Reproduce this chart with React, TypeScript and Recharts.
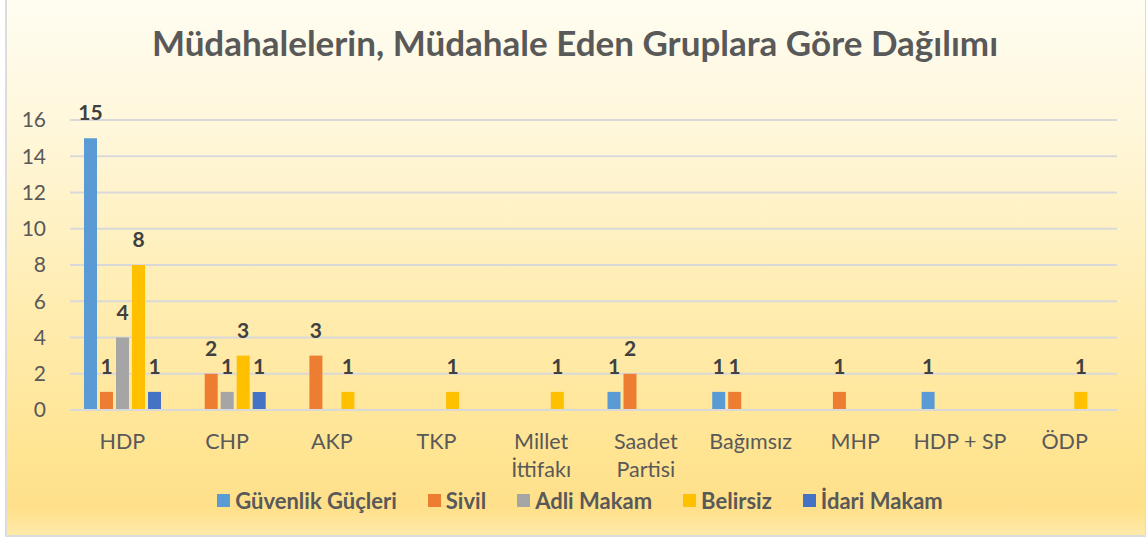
import React from 'react';
import { BarChart, Bar, XAxis, YAxis, CartesianGrid, LabelList } from 'recharts';

const categories = ['HDP', 'CHP', 'AKP', 'TKP', 'Millet İttifakı', 'Saadet Partisi', 'Bağımsız', 'MHP', 'HDP + SP', 'ÖDP'];
const guvenlik = [15, 0, 0, 0, 0, 1, 1, 0, 1, 0];
const sivil = [1, 2, 3, 0, 0, 2, 1, 1, 0, 0];
const adli = [4, 1, 0, 0, 0, 0, 0, 0, 0, 0];
const belirsiz = [8, 3, 1, 1, 1, 0, 0, 0, 0, 1];
const idari = [1, 1, 0, 0, 0, 0, 0, 0, 0, 0];
const yTicks = [0, 2, 4, 6, 8, 10, 12, 14, 16];

const series = [
  { key: 'guvenlik', name: 'Güvenlik Güçleri', color: '#5B9BD5', values: guvenlik },
  { key: 'sivil', name: 'Sivil', color: '#ED7D31', values: sivil },
  { key: 'adli', name: 'Adli Makam', color: '#A5A5A5', values: adli },
  { key: 'belirsiz', name: 'Belirsiz', color: '#FFC000', values: belirsiz },
  { key: 'idari', name: 'İdari Makam', color: '#4472C4', values: idari },
];

const data = categories.map((name, i) => {
  const row: Record<string, any> = { name };
  series.forEach((s) => {
    row[s.key] = s.values[i];
  });
  return row;
});

const FONT = 'Lato, "Open Sans", sans-serif';

const XTick = (props: any) => {
  const { x, y, payload } = props;
  const label: string = payload.value;
  const lines = label.length > 10 ? label.split(' ') : [label];
  return (
    <text x={x} y={y + 39} textAnchor="middle" fill="#595959" fontSize={21.5} fontFamily={FONT}>
      {lines.map((l, i) => (
        <tspan key={i} x={x} dy={i === 0 ? 0 : 28}>
          {l}
        </tspan>
      ))}
    </text>
  );
};

export default function App() {
  return (
    <div style={{ position: 'absolute', left: 0, top: 0, width: 1146, height: 540, background: '#fff', overflow: 'hidden' }}>
      <div
        style={{
          position: 'absolute',
          left: 5,
          top: -2,
          width: 1138,
          height: 537,
          borderLeft: '2px solid #DCDCDC',
          borderRight: '2px solid #DCDCDC',
          borderBottom: '2px solid #DCDCDC',
          background:
            'linear-gradient(180deg, #FFFDF2 0%, #FFF7DA 25%, #FFEDB3 55%, #FFE492 85%, #FFE08A 95%, #FFEAAA 100%)',
        }}
      />
      <div
        style={{
          position: 'absolute',
          left: 0,
          top: 21,
          width: 1150,
          textAlign: 'center',
          fontFamily: FONT,
          fontWeight: 700,
          fontSize: 35,
          lineHeight: '42px',
          color: '#595959',
          whiteSpace: 'nowrap',
        }}
      >
        Müdahalelerin, Müdahale Eden Gruplara Göre Dağılımı
      </div>
      <div style={{ position: 'absolute', left: 0, top: 0 }}>
        <BarChart
          width={1146}
          height={540}
          data={data}
          margin={{ top: 120, right: 29, bottom: 70, left: 10 }}
          barSize={13}
          barGap={3}
        >
          <CartesianGrid horizontal vertical={false} stroke="#D9D9D9" strokeWidth={2} />
          <XAxis
            dataKey="name"
            height={60}
            axisLine={{ stroke: '#D9D9D9', strokeWidth: 2 }}
            tickLine={false}
            tickSize={0}
            tickMargin={0}
            interval={0}
            tick={<XTick />}
          />
          <YAxis
            width={60}
            domain={[0, 16]}
            ticks={yTicks}
            axisLine={false}
            tickLine={false}
            tickSize={0}
            tickMargin={24}
            tick={{ fill: '#595959', fontSize: 21, fontFamily: FONT }}
          />
          {series.map((s) => (
            <Bar key={s.key} dataKey={s.key} name={s.name} fill={s.color} isAnimationActive={false}>
              <LabelList
                dataKey={s.key}
                position="top"
                offset={18}
                formatter={(v: any) => (v ? v : '')}
                style={{ fill: '#404040', fontSize: 21, fontWeight: 700, fontFamily: FONT }}
              />
            </Bar>
          ))}
        </BarChart>
      </div>
      <div
        style={{
          position: 'absolute',
          left: 0,
          top: 486,
          width: 1160,
          display: 'flex',
          justifyContent: 'center',
          alignItems: 'center',
          fontFamily: FONT,
          fontWeight: 700,
          fontSize: 22,
          color: '#595959',
          height: 28,
        }}
      >
        {series.map((s, i) => (
          <div key={s.key} style={{ display: 'flex', alignItems: 'center', marginLeft: i === 0 ? 0 : 31 }}>
            <span style={{ display: 'inline-block', width: 13, height: 13, background: s.color, marginRight: 5 }} />
            <span>{s.name}</span>
          </div>
        ))}
      </div>
    </div>
  );
}
